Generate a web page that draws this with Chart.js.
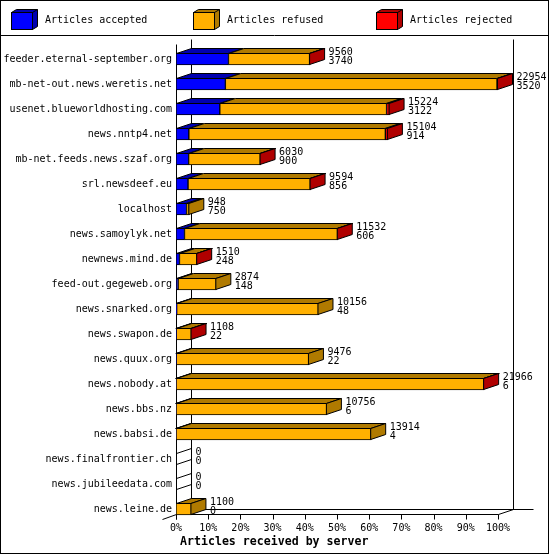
<!DOCTYPE html>
<html><head><meta charset="utf-8">
<script src="https://cdn.jsdelivr.net/npm/chart.js@4"></script>
<style>html,body{margin:0;padding:0;background:#fff}canvas{display:block}</style>
</head><body>
<canvas id="c" width="550" height="555"></canvas>
<script>
const servers = [
  'feeder.eternal-september.org','mb-net-out.news.weretis.net','usenet.blueworldhosting.com',
  'news.nntp4.net','mb-net.feeds.news.szaf.org','srl.newsdeef.eu','localhost',
  'news.samoylyk.net','newnews.mind.de','feed-out.gegeweb.org','news.snarked.org',
  'news.swapon.de','news.quux.org','news.nobody.at','news.bbs.nz','news.babsi.de',
  'news.finalfrontier.ch','news.jubileedata.com','news.leine.de'
];
const totals   = [9560,22954,15224,15104,6030,9594,948,11532,1510,2874,10156,1108,9476,21966,10756,13914,0,0,1100];
const accepted = [3740,3520,3122,914,900,856,750,606,248,148,48,22,22,6,6,4,0,0,0];
const refused  = [5780,19364,11887,14010,5110,8718,198,10906,1247,2726,10108,1076,9454,21940,10750,13910,0,0,1100];
const rejected = [40,70,215,180,20,20,0,20,15,0,0,10,0,20,0,0,0,0,0];
const seriesNames = ['Articles accepted','Articles refused','Articles rejected'];
const frontColors = ['#0000FF','#FFB000','#FF0000'];
const sideColors  = ['#0000B0','#B07A00','#B00000'];
const axisTitle = 'Articles received by server';

const maxTotal = Math.max(...totals);
const pct = arr => arr.map(v => v / maxTotal * 100);
const FONT = '"DejaVu Sans Mono", "Liberation Mono", monospace';
const DX = 15, DY = 5;

const plugin3d = {
  id: 'plugin3d',
  beforeDatasetsDraw(chart) {
    const {ctx, chartArea: a, scales: {x}} = chart;
    const x0 = Math.round(x.getPixelForValue(0)), x1 = Math.round(x.getPixelForValue(100));
    const fy = a.bottom - 7, topF = a.top - 2, topB = topF - 5;
    ctx.save();
    ctx.strokeStyle = '#000'; ctx.lineWidth = 1;
    ctx.beginPath();
    ctx.moveTo(x0 + .5, topF); ctx.lineTo(x0 + .5, fy + 5);
    ctx.moveTo(x0 + DX + .5, topB); ctx.lineTo(x0 + DX + .5, fy - DY);
    ctx.moveTo(x1 + DX + .5, topB); ctx.lineTo(x1 + DX + .5, fy - DY);
    ctx.moveTo(x0 + .5, fy); ctx.lineTo(x1 + .5, fy); ctx.lineTo(x1 + DX + .5, fy - DY);
    ctx.moveTo(x0 + DX + .5, fy - DY); ctx.lineTo(x1 + DX + 20.5, fy - DY);
    ctx.moveTo(x0 + .5, fy); ctx.lineTo(x0 - 14 + .5, fy + 5);
    x.ticks.forEach(t => {
      const p = Math.round(x.getPixelForValue(t.value)) + .5;
      ctx.moveTo(p, fy); ctx.lineTo(p, fy + 5);
    });
    ctx.stroke();
    ctx.restore();
  },
  afterDatasetsDraw(chart) {
    const {ctx} = chart;
    const metas = chart.data.datasets.map((d, i) => chart.getDatasetMeta(i));
    ctx.save();
    ctx.strokeStyle = '#000'; ctx.lineWidth = 1; ctx.lineJoin = 'miter';
    servers.forEach((s, i) => {
      let lastIdx = -1, right = null, top = 0, bottom = 0;
      metas.forEach((m, d) => {
        const el = m.data[i];
        const l = Math.min(el.base, el.x), r = Math.max(el.base, el.x);
        top = el.y - el.height / 2; bottom = el.y + el.height / 2;
        if (right === null) right = l;
        if (r - l > 0.05) {
          lastIdx = d; right = r;
          ctx.beginPath();
          ctx.moveTo(l + .5, top + .5);
          ctx.lineTo(r - .5, top + .5);
          ctx.lineTo(r - .5 + DX, top + .5 - DY);
          ctx.lineTo(l + .5 + DX, top + .5 - DY);
          ctx.closePath();
          ctx.fillStyle = sideColors[d];
          ctx.fill(); ctx.stroke();
        }
      });
      ctx.beginPath();
      const rr = lastIdx >= 0 ? right - .5 : right + .5;
      ctx.moveTo(rr, top + .5);
      ctx.lineTo(rr + DX, top + .5 - DY);
      ctx.lineTo(rr + DX, bottom - .5 - DY);
      ctx.lineTo(rr, bottom - .5);
      ctx.closePath();
      if (lastIdx >= 0) { ctx.fillStyle = sideColors[lastIdx]; ctx.fill(); ctx.stroke(); }
      else {
        ctx.beginPath();
        ctx.moveTo(rr, top + .5); ctx.lineTo(rr + DX, top + .5 - DY);
        ctx.moveTo(rr, bottom - .5); ctx.lineTo(rr + DX, bottom - .5 - DY);
        ctx.stroke();
      }
      const cy = (top + bottom) / 2;
      ctx.fillStyle = '#000';
      ctx.font = '10px ' + FONT;
      ctx.textAlign = 'left'; ctx.textBaseline = 'middle';
      ctx.fillText(String(totals[i]), rr + DX + 4, cy - 6.5);
      ctx.fillText(String(accepted[i]), rr + DX + 4, cy + 2.5);
    });
    ctx.restore();
  },
  afterDraw(chart) {
    const {ctx} = chart;
    ctx.save();
    const lx = [11, 193, 376];
    ctx.strokeStyle = '#000'; ctx.lineWidth = 1;
    ctx.font = '10px ' + FONT; ctx.textBaseline = 'middle'; ctx.textAlign = 'left';
    chart.data.datasets.forEach((ds, d) => {
      const x = lx[d], y = 12, w = 21, h = 17, dx = 5, dy = 3;
      ctx.fillStyle = sideColors[d];
      ctx.beginPath();
      ctx.moveTo(x + .5, y + .5); ctx.lineTo(x + dx + .5, y - dy + .5);
      ctx.lineTo(x + w + dx + .5, y - dy + .5); ctx.lineTo(x + w + dx + .5, y + h - dy + .5);
      ctx.lineTo(x + w + .5, y + h + .5); ctx.lineTo(x + w + .5, y + .5); ctx.closePath();
      ctx.fill(); ctx.stroke();
      ctx.beginPath(); ctx.moveTo(x + w + .5, y + .5); ctx.lineTo(x + w + dx + .5, y - dy + .5); ctx.stroke();
      ctx.fillStyle = ds.backgroundColor;
      ctx.fillRect(x + .5, y + .5, w, h);
      ctx.strokeRect(x + .5, y + .5, w, h);
      ctx.fillStyle = '#000';
      ctx.fillText(ds.label, x + 34, 20.5);
    });
    ctx.beginPath(); ctx.moveTo(0, 35.5); ctx.lineTo(549, 35.5); ctx.stroke();
    ctx.strokeRect(0.5, 0.5, 548, 553);
    ctx.font = 'bold 11.6px ' + FONT;
    ctx.fillText(axisTitle, 180, 542);
    ctx.restore();
  }
};

new Chart(document.getElementById('c'), {
  type: 'bar',
  data: {
    labels: servers,
    datasets: [
      {label: seriesNames[0], data: pct(accepted), backgroundColor: frontColors[0]},
      {label: seriesNames[1], data: pct(refused),  backgroundColor: frontColors[1]},
      {label: seriesNames[2], data: pct(rejected), backgroundColor: frontColors[2]}
    ].map(d => Object.assign(d, {borderColor: '#000', borderWidth: 1, borderSkipped: false, barThickness: 12}))
  },
  options: {
    indexAxis: 'y',
    responsive: false,
    devicePixelRatio: 1,
    animation: false,
    layout: {padding: {top: 46.5, right: 52, bottom: 6, left: 0}},
    plugins: {legend: {display: false}, tooltip: {enabled: false}},
    scales: {
      x: {
        stacked: true, min: 0, max: 100,
        grid: {display: false, drawTicks: false}, border: {display: false},
        ticks: {stepSize: 10, callback: v => v + '%', color: '#000', padding: 1,
                font: {family: FONT, size: 10}, maxRotation: 0, autoSkip: false},
        afterFit: s => { s.height = 27.5; }
      },
      y: {
        stacked: true,
        grid: {display: false, drawTicks: false}, border: {display: false},
        ticks: {color: '#000', padding: 4, font: {family: FONT, size: 10}, autoSkip: false},
        afterFit: s => { s.width = 176; }
      }
    }
  },
  plugins: [plugin3d]
});
</script>
</body></html>
